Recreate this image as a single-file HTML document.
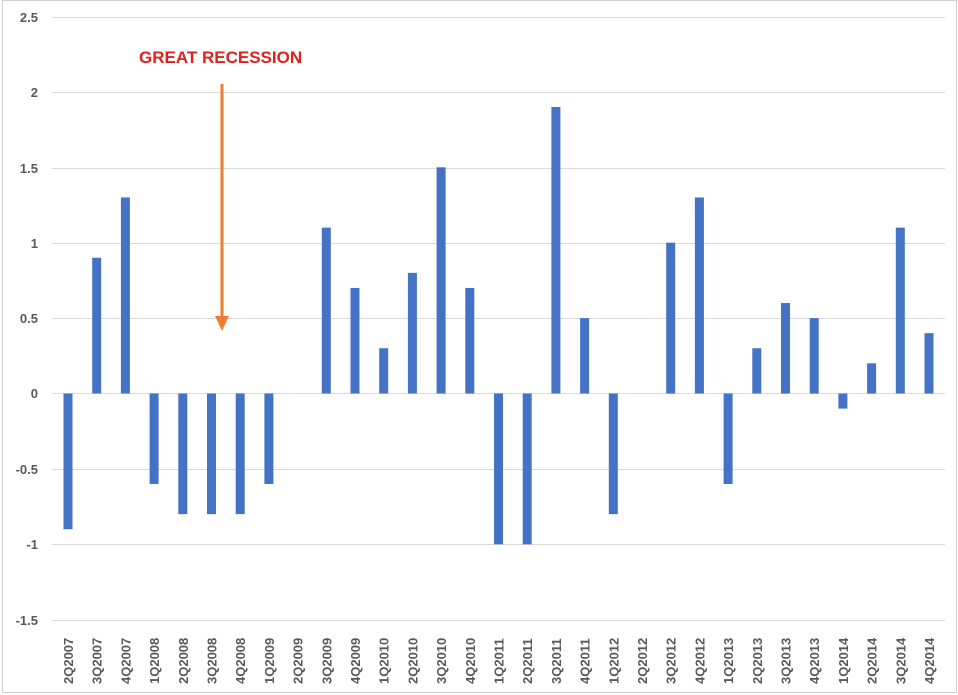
<!DOCTYPE html>
<html><head><style>body{margin:0;background:#fff}svg{display:block}</style></head><body>
<svg width="958" height="695" xmlns="http://www.w3.org/2000/svg" font-family="Liberation Sans, sans-serif">
<rect x="2.5" y="0.5" width="954" height="692" fill="#fff" stroke="#d0d0d0"/>
<g stroke="#d9d9d9" stroke-width="1">
<line x1="52" x2="945" y1="17.5" y2="17.5"/><line x1="52" x2="945" y1="92.5" y2="92.5"/>
<line x1="52" x2="945" y1="168.5" y2="168.5"/><line x1="52" x2="945" y1="243.5" y2="243.5"/>
<line x1="52" x2="945" y1="318.5" y2="318.5"/><line x1="52" x2="945" y1="393.5" y2="393.5"/>
<line x1="52" x2="945" y1="469.5" y2="469.5"/><line x1="52" x2="945" y1="544.5" y2="544.5"/>
<line x1="52" x2="945" y1="620.5" y2="620.5"/>
</g>
<g font-size="13" font-weight="bold" fill="#595959" text-anchor="end">
<text x="38" y="22">2.5</text><text x="38" y="97">2</text><text x="38" y="173">1.5</text><text x="38" y="248">1</text><text x="38" y="323">0.5</text><text x="38" y="398">0</text><text x="38" y="474">-0.5</text><text x="38" y="549">-1</text><text x="38" y="625">-1.5</text>
</g>
<g id="bars" fill="#4472c4"></g>
<g id="labels" font-size="13" font-weight="bold" fill="#595959"></g>
<text x="139" y="63" font-size="17" font-weight="bold" fill="#e0201b">GREAT RECESSION</text>
<line x1="222" y1="84" x2="222" y2="318" stroke="#ed7d31" stroke-width="3"/>
<polygon points="215,316 229,316 222,331" fill="#ed7d31"/>
<script>
var v=[-0.9,0.9,1.3,-0.6,-0.8,-0.8,-0.8,-0.6,0,1.1,0.7,0.3,0.8,1.5,0.7,-1,-1,1.9,0.5,-0.8,0,1.0,1.3,-0.6,0.3,0.6,0.5,-0.1,0.2,1.1,0.4];
var names=[];var q=2,y=2007;for(var i=0;i<31;i++){names.push(q+"Q"+y);q++;if(q>4){q=1;y++;}}
var ns="http://www.w3.org/2000/svg",b=document.getElementById("bars"),l=document.getElementById("labels");
var s=150.8;
for(var i=0;i<31;i++){var cx=68+i*28.7;var h=v[i]*s;
if(h!==0){var r=document.createElementNS(ns,"rect");r.setAttribute("x",cx-4.5);r.setAttribute("width",9);
r.setAttribute("y",h>0?393.5-h:393.5);r.setAttribute("height",Math.abs(h));b.appendChild(r);}
var t=document.createElementNS(ns,"text");t.setAttribute("transform","translate("+(cx+5)+",684) rotate(-90)");t.textContent=names[i];l.appendChild(t);}
</script>
</svg>
</body></html>
